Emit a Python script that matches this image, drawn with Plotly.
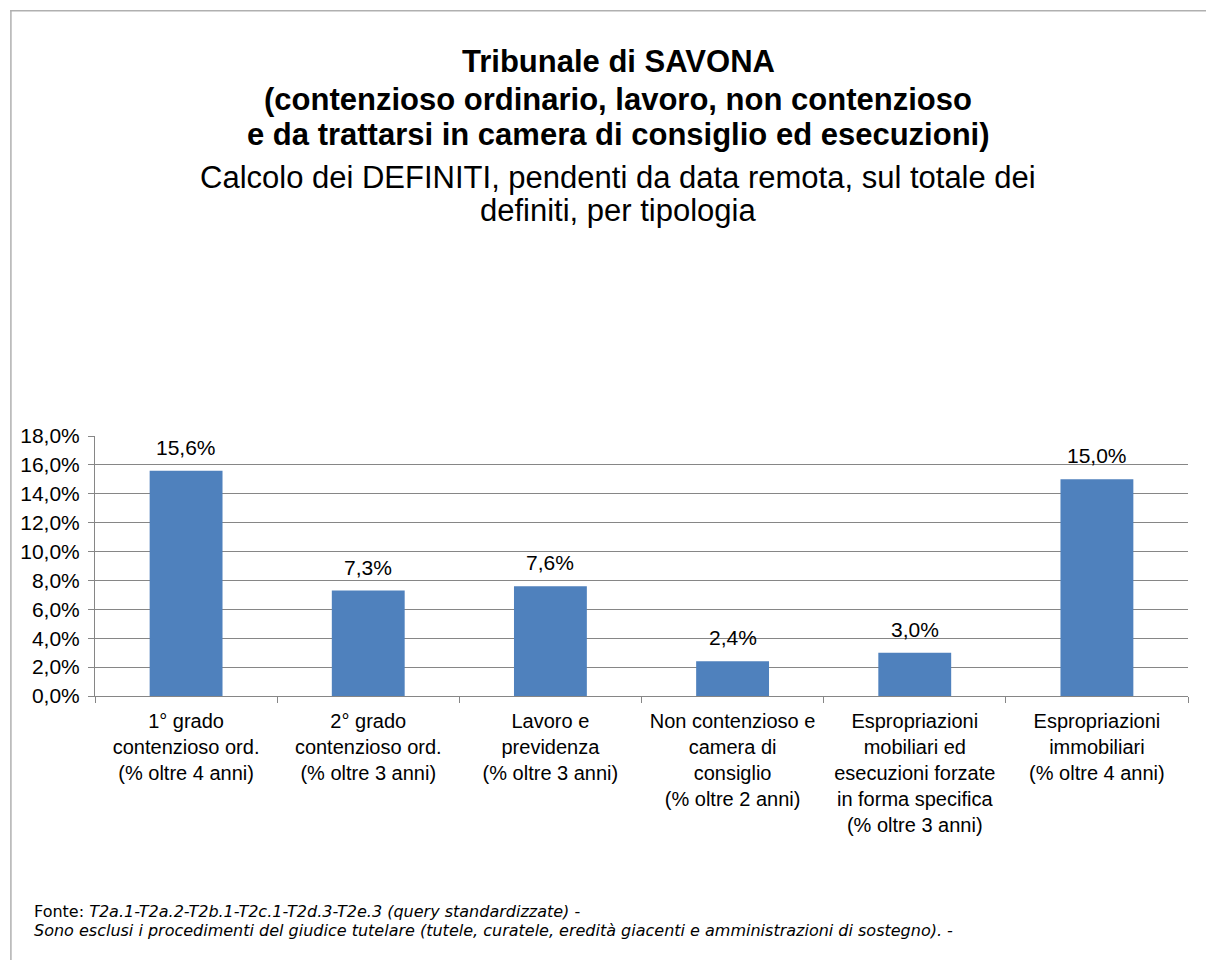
import plotly.graph_objects as go

categories = [
    "1° grado<br>contenzioso ord.<br>(% oltre 4 anni)",
    "2° grado<br>contenzioso ord.<br>(% oltre 3 anni)",
    "Lavoro e<br>previdenza<br>(% oltre 3 anni)",
    "Non contenzioso e<br>camera di<br>consiglio<br>(% oltre 2 anni)",
    "Espropriazioni<br>mobiliari ed<br>esecuzioni forzate<br>in forma specifica<br>(% oltre 3 anni)",
    "Espropriazioni<br>immobiliari<br>(% oltre 4 anni)",
]
values = [15.6, 7.3, 7.6, 2.4, 3.0, 15.0]
tick_vals = [0, 2, 4, 6, 8, 10, 12, 14, 16, 18]
tick_text = ["0,0%", "2,0%", "4,0%", "6,0%", "8,0%", "10,0%", "12,0%", "14,0%", "16,0%", "18,0%"]
value_labels = [f"{v:.1f}%".replace(".", ",") for v in values]

OFF = 8  # page body margin
W, H = 1206, 952
L, R, T, B = 85, 26, 428, 264
pw, ph = W - L - R, H - T - B

def px(sx):
    return (sx - OFF - L) / pw

def py(sy):
    return (H - B - (sy - OFF)) / ph

FONT = "Liberation Sans, Arial"

fig = go.Figure()
fig.add_trace(go.Bar(
    x=categories, y=values, width=0.4,
    marker=dict(color="#4F81BD", line=dict(width=0)),
    hoverinfo="skip",
))
for c, v, t in zip(categories, values, value_labels):
    fig.add_annotation(x=c, y=v, text=t, showarrow=False, yanchor="bottom", yshift=10,
                       font=dict(family=FONT, size=21, color="#000000"))

fig.update_layout(
    width=W, height=H,
    margin=dict(l=L, r=R, t=T, b=B, pad=0),
    paper_bgcolor="white", plot_bgcolor="white",
    showlegend=False,
    font=dict(family=FONT, size=21, color="#000000"),
    xaxis=dict(
        showline=True, linecolor="#868686", linewidth=1,
        ticks="outside", tickson="boundaries", ticklen=6, tickcolor="#868686",
        showgrid=False, tickfont=dict(size=20), tickangle=0,
        ticklabelstandoff=7,
    ),
    yaxis=dict(
        range=[0, 18], tickvals=tick_vals, ticktext=tick_text,
        showline=True, linecolor="#868686", linewidth=1,
        ticks="outside", ticklen=6, tickcolor="#868686",
        showgrid=True, gridcolor="#868686", gridwidth=1,
        zeroline=False, tickfont=dict(size=21),
        ticklabelstandoff=4,
    ),
)

# outer frame (left and top)
fig.add_shape(type="line", xref="paper", yref="paper",
              x0=px(8.75), x1=px(8.75), y0=py(10), y1=py(962), line=dict(color="#B0B0B0", width=1.5))
fig.add_shape(type="line", xref="paper", yref="paper",
              x0=px(8), x1=px(1214), y0=py(10.75), y1=py(10.75), line=dict(color="#B0B0B0", width=1.5))

title_lines = [
    ("<b>Tribunale di SAVONA</b>", 62),
    ("<b>(contenzioso ordinario, lavoro, non contenzioso</b>", 99),
    ("<b>e da trattarsi in camera di consiglio ed esecuzioni)</b>", 134),
    ("Calcolo dei DEFINITI, pendenti da data remota, sul totale dei", 177),
    ("definiti, per tipologia", 210),
]
for txt, y in title_lines:
    fig.add_annotation(text=txt, xref="paper", yref="paper", x=px(617), y=py(y),
                       xanchor="center", yanchor="middle", showarrow=False,
                       font=dict(family=FONT, size=31, color="#000000"))

FOOT = "DejaVu Sans, Verdana"
fig.add_annotation(text="Fonte: <i>T2a.1-T2a.2-T2b.1-T2c.1-T2d.3-T2e.3 (query standardizzate)</i> -",
                   xref="paper", yref="paper", x=px(30), y=py(911), xanchor="left", yanchor="middle",
                   showarrow=False, font=dict(family=FOOT, size=16, color="#000000"))
fig.add_annotation(text="<i>Sono esclusi i procedimenti del giudice tutelare (tutele, curatele, eredità giacenti e amministrazioni di sostegno). -</i>",
                   xref="paper", yref="paper", x=px(30), y=py(930), xanchor="left", yanchor="middle",
                   showarrow=False, font=dict(family=FOOT, size=16, color="#000000"))

fig.write_html("out.html")
